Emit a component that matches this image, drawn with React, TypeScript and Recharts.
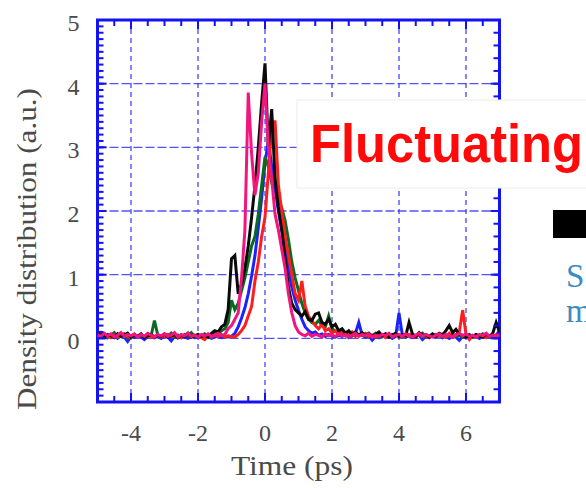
import React from 'react';
import { LineChart, Line, XAxis, YAxis, CartesianGrid, ReferenceArea, Label } from 'recharts';

// Sample times (ps)
const times = [
  -5.0, -4.9, -4.8, -4.7, -4.6, -4.5, -4.4, -4.3, -4.2, -4.1,
  -4.0, -3.9, -3.8, -3.7, -3.6, -3.5, -3.4, -3.3, -3.2, -3.1,
  -3.0, -2.9, -2.8, -2.7, -2.6, -2.5, -2.4, -2.3, -2.2, -2.1,
  -2.0, -1.9, -1.8, -1.7, -1.6, -1.5, -1.4, -1.3, -1.2, -1.1,
  -1.0, -0.9, -0.8, -0.7, -0.6, -0.5, -0.4, -0.3, -0.2, -0.1,
  0.0, 0.1, 0.2, 0.3, 0.4, 0.5, 0.6, 0.7, 0.8, 0.9,
  1.0, 1.1, 1.2, 1.3, 1.4, 1.5, 1.6, 1.7, 1.8, 1.9,
  2.0, 2.1, 2.2, 2.3, 2.4, 2.5, 2.6, 2.7, 2.8, 2.9,
  3.0, 3.1, 3.2, 3.3, 3.4, 3.5, 3.6, 3.7, 3.8, 3.9,
  4.0, 4.1, 4.2, 4.3, 4.4, 4.5, 4.6, 4.7, 4.8, 4.9,
  5.0, 5.1, 5.2, 5.3, 5.4, 5.5, 5.6, 5.7, 5.8, 5.9,
  6.0, 6.1, 6.2, 6.3, 6.4, 6.5, 6.6, 6.7, 6.8, 6.9,
  7.0,
];

// Density distributions (a.u.), one shot per series
const greenShot = [
  0.08, 0.03, 0.06, 0.01, 0.05, 0.09, 0.02, 0.04, 0.07, 0.00,
  0.04, 0.06, 0.02, 0.05, 0.03, 0.07, 0.04, 0.28, 0.05, 0.02,
  0.06, 0.03, 0.08, 0.02, 0.05, 0.01, 0.06, 0.04, 0.09, 0.03,
  0.05, 0.02, 0.07, 0.04, 0.06, 0.10, 0.08, 0.12, 0.15, 0.25,
  0.60, 0.45, 0.55, 0.75, 0.95, 1.20, 1.45, 1.60, 1.95, 2.40,
  2.85, 2.70, 2.45, 2.50, 2.20, 2.05, 1.85, 1.55, 1.20, 0.95,
  0.75, 0.55, 0.40, 0.30, 0.25, 0.22, 0.28, 0.20, 0.18, 0.35,
  0.15, 0.12, 0.08, 0.10, 0.06, 0.09, 0.04, 0.07, 0.05, 0.08,
  0.03, 0.06, 0.04, 0.08, 0.02, 0.05, 0.07, 0.03, 0.06, 0.04,
  0.05, 0.02, 0.07, 0.04, 0.06, 0.03, 0.05, 0.08, 0.02, 0.04,
  0.06, 0.03, 0.05, 0.07, 0.02, 0.04, 0.06, 0.03, 0.05, 0.02,
  0.04, 0.06, 0.02, 0.05, 0.03, 0.07, 0.04, 0.02, 0.05, 0.03,
  0.04,
];

const blackShot = [
  0.05, 0.09, 0.02, 0.06, 0.04, 0.01, 0.07, 0.03, 0.05, 0.08,
  0.02, 0.05, 0.03, 0.07, 0.01, 0.04, 0.06, 0.02, 0.05, 0.03,
  0.07, 0.02, 0.04, 0.06, 0.01, 0.05, 0.03, 0.08, 0.02, 0.04,
  0.06, 0.03, 0.05, 0.02, 0.08, 0.12, 0.10, 0.18, 0.22, 0.45,
  1.25, 1.30, 0.70, 0.85, 1.10, 1.45, 1.90, 2.40, 3.00, 3.70,
  4.32, 3.00, 3.60, 2.50, 2.05, 1.70, 1.25, 0.80, 0.55, 0.45,
  0.40, 0.35, 0.42, 0.30, 0.28, 0.38, 0.40, 0.25, 0.22, 0.30,
  0.18, 0.22, 0.12, 0.15, 0.08, 0.12, 0.06, 0.10, 0.05, 0.09,
  0.04, 0.08, 0.03, 0.06, 0.10, 0.04, 0.07, 0.02, 0.05, 0.08,
  0.03, 0.06, 0.04, 0.25, 0.07, 0.03, 0.09, 0.04, 0.06, 0.02,
  0.07, 0.04, 0.08, 0.05, 0.12, 0.20, 0.09, 0.14, 0.06, 0.05,
  0.02, 0.05, 0.03, 0.06, 0.04, 0.02, 0.07, 0.03, 0.08, 0.25,
  0.10,
];

const blueShot = [
  0.02, 0.04, 0.01, 0.05, 0.03, 0.06, 0.00, 0.04, 0.02, -0.05,
  0.03, 0.01, 0.04, 0.02, -0.02, 0.03, 0.05, 0.01, 0.03, 0.00,
  0.04, 0.02, -0.04, 0.03, 0.01, 0.05, 0.02, 0.00, 0.03, 0.01,
  0.02, 0.04, 0.01, 0.03, 0.00, 0.02, 0.04, 0.01, 0.03, 0.02,
  0.03, 0.08, 0.18, 0.32, 0.48, 0.70, 0.98, 1.30, 1.74, 2.20,
  2.75, 3.10, 2.70, 2.35, 2.00, 1.70, 1.43, 1.10, 0.80, 0.60,
  0.44, 0.30, 0.18, 0.12, 0.08, 0.10, 0.05, 0.07, 0.03, 0.06,
  0.04, 0.02, 0.05, 0.03, 0.06, 0.01, 0.04, 0.08, 0.25, 0.05,
  0.02, 0.04, -0.03, 0.03, 0.01, 0.05, 0.02, 0.04, 0.00, 0.03,
  0.40, 0.05, 0.02, 0.04, 0.01, 0.03, 0.05, -0.02, 0.03, 0.01,
  0.04, 0.02, 0.05, 0.01, 0.03, 0.00, 0.04, 0.02, -0.03, 0.03,
  0.01, 0.04, 0.02, 0.05, 0.00, 0.03, 0.01, 0.04, 0.02, 0.05,
  0.12,
];

const redShot = [
  0.04, 0.02, 0.06, 0.03, 0.01, 0.05, 0.02, 0.04, 0.07, 0.03,
  0.01, 0.05, 0.03, 0.06, 0.02, 0.04, 0.01, 0.03, 0.05, 0.02,
  0.04, 0.06, 0.02, 0.05, 0.03, 0.01, 0.04, 0.07, 0.02, 0.05,
  0.03, 0.01, -0.02, 0.04, 0.02, 0.05, 0.03, 0.06, 0.02, 0.04,
  0.03, 0.02, 0.06, 0.12, 0.20, 0.35, 0.50, 0.90, 1.20, 1.60,
  1.90, 2.60, 3.30, 3.42, 2.40, 2.00, 1.60, 1.30, 1.00, 0.70,
  0.60, 0.90, 0.50, 0.35, 0.28, 0.20, 0.15, 0.22, 0.12, 0.15,
  0.08, 0.12, 0.06, 0.09, 0.04, 0.07, 0.10, 0.03, 0.06, 0.05,
  0.08, 0.03, 0.05, 0.02, 0.06, 0.04, 0.01, 0.05, 0.03, 0.07,
  0.02, 0.05, 0.03, 0.06, 0.04, 0.02, 0.07, 0.03, 0.05, 0.01,
  0.04, 0.06, 0.03, 0.05, 0.02, 0.08, 0.04, 0.06, 0.10, 0.44,
  0.06, -0.02, 0.04, 0.02, 0.05, 0.03, 0.01, 0.04, 0.02, 0.05,
  0.03,
];

const magentaShot = [
  0.06, 0.03, 0.08, 0.04, 0.07, 0.02, 0.05, 0.09, 0.03, 0.06,
  0.04, 0.07, 0.02, 0.06, 0.03, 0.08, 0.05, 0.02, 0.06, 0.04,
  0.07, 0.03, 0.05, 0.09, 0.02, 0.06, 0.04, 0.08, 0.03, 0.05,
  0.02, 0.06, 0.04, 0.07, 0.03, 0.05, 0.08, 0.04, 0.06, 0.15,
  0.20, 0.30, 0.40, 0.95, 1.70, 3.86, 2.90, 2.25, 2.60, 3.40,
  4.00, 3.00, 2.50, 1.95, 1.70, 1.40, 1.10, 0.70, 0.40, 0.20,
  0.10, 0.06, 0.04, 0.08, 0.03, 0.06, 0.05, 0.02, 0.07, 0.04,
  0.05, 0.03, 0.07, 0.04, 0.06, 0.02, 0.05, 0.08, 0.03, 0.06,
  0.04, 0.07, 0.02, 0.05, 0.03, 0.06, 0.04, 0.08, 0.02, 0.05,
  0.06, 0.03, 0.07, 0.04, 0.02, 0.05, 0.08, 0.03, 0.06, 0.04,
  0.02, 0.05, 0.07, 0.03, 0.06, 0.04, 0.02, 0.05, 0.08, 0.04,
  0.07, 0.03, 0.05, 0.02, 0.06, 0.04, 0.08, 0.03, 0.05, 0.02,
  0.06,
];

// Axis ticks
const xTickValues = [-4, -2, 0, 2, 4, 6];
const yTickValues = [0, 1, 2, 3, 4, 5];
const xMajorMarks = [-4, -2, 0, 2, 4, 6];
const yMajorMarks = [0, 1, 2, 3, 4];

function evenSteps(from: number, to: number, step: number): number[] {
  const out: number[] = [];
  const n = Math.round((to - from) / step);
  for (let i = 0; i <= n; i++) out.push(Number((from + i * step).toFixed(2)));
  return out;
}

const xMinorMarks = evenSteps(-5, 7, 0.5);
const yMinorLeftMarks = evenSteps(-1, 5, 0.1);
const yMinorRightMarks = evenSteps(-1, 5, 0.2);

const rows = times.map((t, i) => ({
  t,
  green: greenShot[i],
  black: blackShot[i],
  blue: blueShot[i],
  red: redShot[i],
  magenta: magentaShot[i],
}));

const AXIS_BLUE = '#1212f2';
const TEXT_GRAY = '#4a4a4a';
const SERIF = '"Liberation Serif", "Times New Roman", serif';

const noLabel = () => <g />;

const XTickLabel = (props: any) => {
  const { x, y, payload } = props;
  return (
    <text x={x} y={y} dy={39} textAnchor="middle" fontFamily={SERIF} fontSize={24} fill={TEXT_GRAY}>
      {payload.value}
    </text>
  );
};

const YTickLabel = (props: any) => {
  const { x, y, payload } = props;
  return (
    <text x={x} y={y} dy={11} textAnchor="end" fontFamily={SERIF} fontSize={24} fill={TEXT_GRAY}>
      {payload.value}
    </text>
  );
};

const tickLineStyle = { stroke: AXIS_BLUE, strokeWidth: 2 };

export default function App() {
  return (
    <div style={{ position: 'absolute', left: 0, top: 0, width: 586, height: 488, background: '#fff' }}>
      <LineChart
        width={586}
        height={488}
        data={rows}
        margin={{ top: 20, right: 86.5, bottom: 0, left: 0 }}
      >
        {/* inward tick marks on all four sides */}
        <XAxis xAxisId="bMaj" dataKey="t" type="number" domain={[-5, 7]} allowDataOverflow orientation="bottom" mirror height={1}
          ticks={xMajorMarks} interval={0} tick={noLabel} axisLine={false} tickLine={tickLineStyle} tickSize={9} />
        <XAxis xAxisId="bMin" dataKey="t" type="number" domain={[-5, 7]} allowDataOverflow orientation="bottom" mirror height={1}
          ticks={xMinorMarks} interval={0} tick={noLabel} axisLine={false} tickLine={tickLineStyle} tickSize={5} />
        <XAxis xAxisId="tMaj" dataKey="t" type="number" domain={[-5, 7]} allowDataOverflow orientation="top" mirror height={1}
          ticks={xMajorMarks} interval={0} tick={noLabel} axisLine={false} tickLine={tickLineStyle} tickSize={9} />
        <XAxis xAxisId="tMin" dataKey="t" type="number" domain={[-5, 7]} allowDataOverflow orientation="top" mirror height={1}
          ticks={xMinorMarks} interval={0} tick={noLabel} axisLine={false} tickLine={tickLineStyle} tickSize={5} />
        <YAxis yAxisId="lMaj" type="number" domain={[-1, 5]} allowDataOverflow orientation="left" mirror width={1}
          ticks={yMajorMarks} interval={0} tick={noLabel} axisLine={false} tickLine={tickLineStyle} tickSize={9} />
        <YAxis yAxisId="lMin" type="number" domain={[-1, 5]} allowDataOverflow orientation="left" mirror width={1}
          ticks={yMinorLeftMarks} interval={0} tick={noLabel} axisLine={false} tickLine={tickLineStyle} tickSize={5} />
        <YAxis yAxisId="rMaj" type="number" domain={[-1, 5]} allowDataOverflow orientation="right" mirror width={1}
          ticks={yMajorMarks} interval={0} tick={noLabel} axisLine={false} tickLine={tickLineStyle} tickSize={9} />
        <YAxis yAxisId="rMin" type="number" domain={[-1, 5]} allowDataOverflow orientation="right" mirror width={1}
          ticks={yMinorRightMarks} interval={0} tick={noLabel} axisLine={false} tickLine={tickLineStyle} tickSize={5} />

        {/* labelled axes */}
        <XAxis xAxisId="x" dataKey="t" type="number" domain={[-5, 7]} allowDataOverflow ticks={xTickValues} interval={0}
          height={86} axisLine={false} tickLine={false} tickSize={0} tickMargin={0} tick={XTickLabel}>
          <Label content={() => (
            <text x={292} y={475} textAnchor="middle" fontFamily={SERIF} fontSize={27} fill={TEXT_GRAY}
              textLength={122} lengthAdjust="spacingAndGlyphs">Time (ps)</text>
          )} />
        </XAxis>
        <YAxis yAxisId="y" type="number" domain={[-1, 5]} allowDataOverflow ticks={yTickValues} interval={0}
          width={97.5} axisLine={false} tickLine={false} tickSize={0} tickMargin={18} tick={YTickLabel}>
          <Label content={() => (
            <text x={0} y={0} transform="translate(36 249) rotate(-90)" textAnchor="middle" fontFamily={SERIF}
              fontSize={27} fill={TEXT_GRAY} textLength={322} lengthAdjust="spacingAndGlyphs">
              Density distribution (a.u.)
            </text>
          )} />
        </YAxis>

        <CartesianGrid xAxisId="x" yAxisId="y" vertical={false} stroke="#3535f5" strokeOpacity={0.85}
          strokeWidth={1.4} strokeDasharray="9 3" />
        <CartesianGrid xAxisId="x" yAxisId="y" horizontal={false} stroke="#3535f5" strokeOpacity={0.85}
          strokeWidth={1.4} strokeDasharray="5 4" />

        <Line xAxisId="x" yAxisId="y" dataKey="blue" stroke="#1a22ff" strokeWidth={3} dot={false} isAnimationActive={false} />
        <Line xAxisId="x" yAxisId="y" dataKey="green" stroke="#0b6a22" strokeWidth={3} dot={false} isAnimationActive={false} />
        <Line xAxisId="x" yAxisId="y" dataKey="red" stroke="#ff1e1e" strokeWidth={3} dot={false} isAnimationActive={false} />
        <Line xAxisId="x" yAxisId="y" dataKey="black" stroke="#0a0a0a" strokeWidth={3} dot={false} isAnimationActive={false} />
        <Line xAxisId="x" yAxisId="y" dataKey="magenta" stroke="#f2157f" strokeWidth={3} dot={false} isAnimationActive={false} />

        <ReferenceArea xAxisId="x" yAxisId="y" x1={-5} x2={7} y1={-1} y2={5} ifOverflow="visible"
          fill="none" fillOpacity={0} stroke={AXIS_BLUE} strokeWidth={3} />
      </LineChart>

      <svg width={586} height={488} style={{ position: 'absolute', left: 0, top: 0, pointerEvents: 'none' }}>
        <rect x={297} y={100} width={300} height={88} fill="#ffffff" stroke="#ececec" strokeWidth={1} />
        <text x={310} y={162} fontFamily='"Liberation Sans", Arial, sans-serif' fontWeight="bold" fontSize={54}
          fill="#ff0a0a" textLength={273} lengthAdjust="spacingAndGlyphs">Fluctuating</text>
        <rect x={553} y={210} width={40} height={28} fill="#000000" />
        <text x={566} y={287} fontFamily={SERIF} fontSize={33} fill="#3b8cc4">S</text>
        <text x={566} y={322} fontFamily={SERIF} fontSize={33} fill="#3b8cc4">m</text>
      </svg>
    </div>
  );
}
